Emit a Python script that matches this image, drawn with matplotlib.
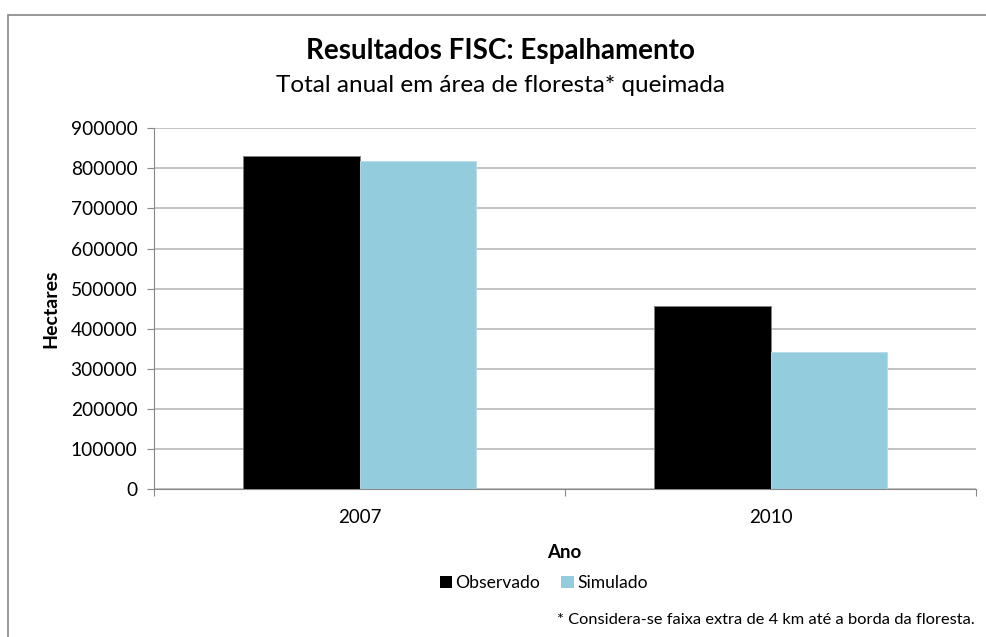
import matplotlib
matplotlib.use('Agg')
import matplotlib.pyplot as plt
from matplotlib.patches import Patch, Rectangle
import numpy as np

anos = ['2007', '2010']
observado = [830000, 456000]
simulado = [817000, 343000]
yticks = [0, 100000, 200000, 300000, 400000, 500000, 600000, 700000, 800000, 900000]

plt.rcParams['font.family'] = ['Lato', 'DejaVu Sans']

fig = plt.figure(figsize=(9.87, 6.37), dpi=100)
ax = fig.add_axes([0.156, 0.2318, 0.833, 0.567])

x = np.arange(len(anos))
w = 0.284
ax.bar(x - w / 2, observado, w, color='black', edgecolor='#7f7f7f', linewidth=0.6, label='Observado', zorder=3)
ax.bar(x + w / 2, simulado, w, color='#93CDDD', edgecolor='#b8dde8', linewidth=0.6, label='Simulado', zorder=3)

ax.set_xlim(-0.5, 1.5)
ax.set_ylim(0, 900000)
ax.set_yticks(yticks)
ax.set_yticklabels([str(v) for v in yticks])
ax.yaxis.grid(True, color='#b3b3b3', linewidth=1.1, zorder=0)

# category boundaries get the tick marks, labels sit in the middle
ax.set_xticks([-0.5, 0.5, 1.5])
ax.set_xticklabels([])
ax.set_xticks(x, minor=True)
ax.set_xticklabels(anos, minor=True)
ax.tick_params(axis='x', which='minor', length=0, pad=14, labelsize=13.5)
ax.tick_params(axis='x', which='major', length=5, color='#888888')
ax.tick_params(axis='y', length=5, pad=7, labelsize=13.8, color='#888888')

for s in ['top', 'right']:
    ax.spines[s].set_visible(False)
for s in ['left', 'bottom']:
    ax.spines[s].set_color('#888888')

ax.set_ylabel('Hectares', fontsize=14, fontweight='bold', labelpad=8)
fig.text(0.572, 0.133, 'Ano', ha='center', va='center', fontsize=13.5, fontweight='bold')

fig.text(0.507, 0.92, 'Resultados FISC: Espalhamento', ha='center', va='center', fontsize=20, fontweight='bold')
fig.text(0.507, 0.866, 'Total anual em área de floresta* queimada', ha='center', va='center', fontsize=17.5)

handles = [Patch(facecolor='black'), Patch(facecolor='#93CDDD')]
fig.legend(handles, ['Observado', 'Simulado'], loc='center', bbox_to_anchor=(0.551, 0.085),
           ncol=2, frameon=False, fontsize=12.6, handlelength=0.7, handleheight=0.7,
           handletextpad=0.2, columnspacing=1.2)

fig.text(0.988, 0.027, '* Considera-se faixa extra de 4 km até a borda da floresta.', ha='right', va='center', fontsize=11.8)

fig.patches.append(Rectangle((0.008, -0.1), 1.1, 1.076, transform=fig.transFigure,
                             fill=False, edgecolor='#868686', linewidth=1.2))

fig.savefig('out.png', dpi=100)
